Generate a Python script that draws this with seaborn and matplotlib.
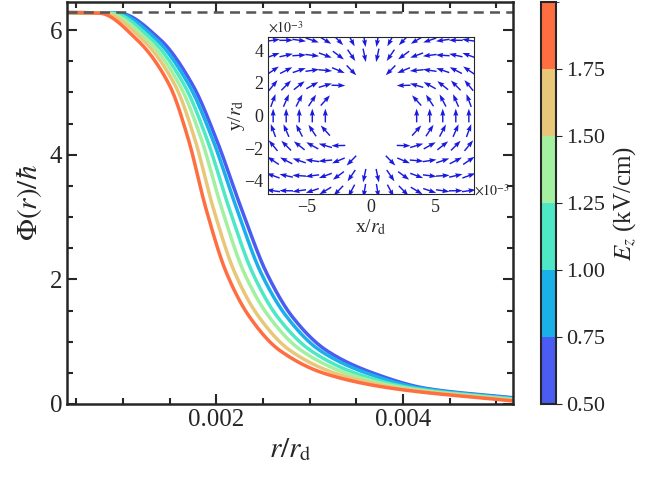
import matplotlib
matplotlib.use('Agg')
import matplotlib.pyplot as plt
import numpy as np
import pandas as pd
import seaborn as sns
from matplotlib.colors import ListedColormap, BoundaryNorm
from matplotlib.ticker import MultipleLocator

sns.set_style('ticks')
plt.rcParams['font.serif'] = ['Liberation Serif', 'DejaVu Serif']
plt.rcParams['font.family'] = 'serif'
plt.rcParams['mathtext.fontset'] = 'stix'

# field values for each curve (kV/cm) and colours
fields = [0.50, 0.75, 1.00, 1.25, 1.50, 1.75]
colors = ['#4a5cf2', '#1ab0ea', '#4ee8c6', '#a2f0a0', '#e8c878', '#ff6e40']

phi_levels = [6.28, 6.27, 5.86, 5.11, 4.25, 3.13, 2.10, 1.39, 0.86, 0.48, 0.25]
r_050 = [0.0004, 0.00096, 0.00139, 0.00175, 0.00200, 0.00227, 0.00254, 0.00282, 0.00318, 0.00371, 0.00425]
r_075 = [0.0004, 0.00093, 0.00135, 0.00171, 0.00196, 0.00222, 0.00248, 0.00276, 0.00311, 0.00364, 0.00420]
r_100 = [0.0004, 0.00089, 0.00130, 0.00166, 0.00190, 0.00214, 0.00239, 0.00266, 0.00301, 0.00352, 0.00412]
r_125 = [0.0004, 0.00084, 0.00125, 0.00161, 0.00184, 0.00206, 0.00230, 0.00257, 0.00291, 0.00342, 0.00405]
r_150 = [0.0004, 0.00080, 0.00120, 0.00156, 0.00177, 0.00197, 0.00220, 0.00246, 0.00279, 0.00330, 0.00397]
r_175 = [0.0004, 0.00075, 0.00114, 0.00150, 0.00170, 0.00189, 0.00211, 0.00236, 0.00268, 0.00318, 0.00389]
r_end = 0.00518
phi_end = [0.10, 0.09, 0.08, 0.07, 0.06, 0.05]


def pchip(x, y, xn):
    # monotone cubic for smooth drawing between the read points
    x = np.asarray(x); y = np.asarray(y)
    h = np.diff(x); d = np.diff(y) / h
    m = np.zeros_like(y)
    for k in range(1, len(x) - 1):
        if d[k-1] * d[k] > 0:
            w1 = 2*h[k] + h[k-1]; w2 = h[k] + 2*h[k-1]
            m[k] = (w1 + w2) / (w1 / d[k-1] + w2 / d[k])
    m[-1] = d[-1]
    i = np.clip(np.searchsorted(x, xn) - 1, 0, len(h) - 1)
    t = (xn - x[i]) / h[i]
    h00 = 2*t**3 - 3*t**2 + 1; h10 = t**3 - 2*t**2 + t
    h01 = -2*t**3 + 3*t**2; h11 = t**3 - t**2
    return h00*y[i] + h10*h[i]*m[i] + h01*y[i+1] + h11*h[i]*m[i+1]


frames = []
for E, rs, pe in zip(fields, [r_050, r_075, r_100, r_125, r_150, r_175], phi_end):
    xs = rs + [r_end]
    ys = phi_levels + [pe]
    xn = np.linspace(xs[0], xs[-1], 300)
    frames.append(pd.DataFrame({'r': xn, 'phi': pchip(xs, ys, xn), 'E': E}))
df = pd.concat(frames)

fig = plt.figure(figsize=(6.5, 4.79), dpi=100)
ax = fig.add_axes([67/650, 1 - 404/479, 446/650, 402/479])
sns.lineplot(data=df, x='r', y='phi', hue='E', palette=dict(zip(fields, colors)),
             linewidth=2.5, legend=False, ax=ax, sort=False)
ax.axhline(2*np.pi, color='#555555', ls='--', lw=1.8, dashes=(4, 2.5))
ax.set_xlim(0.0004, 0.00518)
ax.set_ylim(0, 6.45)
ax.xaxis.set_major_locator(MultipleLocator(0.002))
ax.xaxis.set_minor_locator(MultipleLocator(0.0005))
ax.yaxis.set_major_locator(MultipleLocator(2))
ax.yaxis.set_minor_locator(MultipleLocator(0.5))
ax.tick_params(which='both', direction='in', top=True, right=True, labelsize=18, width=1.5)
ax.tick_params(which='major', length=7)
ax.tick_params(which='minor', length=4)
ax.set_xlabel(r'$r/r_{\rm d}$', fontsize=21)
ax.set_ylabel(r'$\Phi(r)/\hbar$', fontsize=21)
for s in ax.spines.values():
    s.set_linewidth(1.8)

# colorbar
cmap = ListedColormap(colors)
bounds = [0.5, 0.75, 1.0, 1.25, 1.5, 1.75, 2.0]
norm = BoundaryNorm(bounds, cmap.N)
cax = fig.add_axes([541/650, 1 - 404/479, 15/650, 402/479])
cb = fig.colorbar(plt.cm.ScalarMappable(norm=norm, cmap=cmap), cax=cax, ticks=fields)
cb.ax.set_yticklabels(['%.2f' % f for f in fields])
cb.ax.tick_params(labelsize=16, direction='out', length=4)
cb.set_label(r'$E_z$ (kV/cm)', fontsize=18)
cb.outline.set_linewidth(1.5)

# inset vector field
ins = fig.add_axes([268/650, 1 - 194/479, 206/650, 157/479])
gx, gy = np.meshgrid(np.linspace(-7.6, 7.6, 16), np.linspace(-4.6, 4.6, 11))
rr = np.hypot(gx, gy)
ux = 3 * (-gy / rr) * gx / rr
uy = 3 * (-gy / rr) * gy / rr + 1
nrm = np.hypot(ux, uy)
mask = (gx / 3.0) ** 2 + (gy / 2.9) ** 2 > 1
ins.quiver(gx[mask], gy[mask], (ux / nrm)[mask], (uy / nrm)[mask], color='#1a1adc',
           pivot='middle', scale=15, width=0.007, headwidth=3.5, headlength=5)
ins.set_xlim(-8, 8)
ins.set_ylim(-4.8, 4.8)
ins.set_xticks([-5, 0, 5])
ins.set_yticks([-4, -2, 0, 2, 4])
ins.set_xticklabels(['\u22125', '0', '5'])
ins.set_yticklabels(['\u22124', '\u22122', '0', '2', '4'])
ins.tick_params(labelsize=13, length=0)
ins.set_xlabel(r'x/$r_{\rm d}$', fontsize=14, labelpad=1)
ins.set_ylabel(r'y/$r_{\rm d}$', fontsize=14, labelpad=-2)
ins.text(0.0, 1.01, r'$\times10^{-3}$', transform=ins.transAxes, fontsize=10, va='bottom')
ins.text(1.0, 0.02, r'$\times10^{-3}$', transform=ins.transAxes, fontsize=10, va='center')

fig.savefig('out.png', dpi=100)
